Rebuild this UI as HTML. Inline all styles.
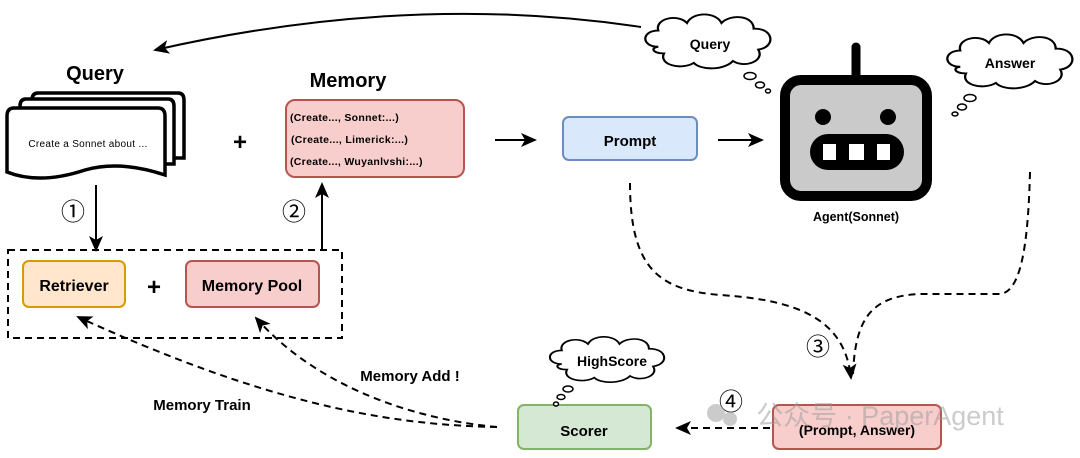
<!DOCTYPE html>
<html><head><meta charset="utf-8"><style>
html,body{margin:0;padding:0;background:#fff;width:1080px;height:458px;overflow:hidden}
text{font-family:"Liberation Sans","Noto Sans CJK SC",sans-serif;font-weight:bold;fill:#000}
text.n{font-weight:normal}
</style></head><body>
<svg width="1080" height="458" viewBox="0 0 1080 458" xmlns="http://www.w3.org/2000/svg">
<defs>
<marker id="ah" markerWidth="16" markerHeight="14" refX="14" refY="7" orient="auto" markerUnits="userSpaceOnUse">
<path d="M0,0 L16,7 L0,14 L4,7 Z" fill="#000"/></marker>
<g id="cloud"><path d="M-45,5 C-60,5 -60,-12 -45,-12 C-48,-25 -28,-30 -20,-20 C-15,-32 5,-32 10,-20 C18,-30 38,-28 38,-14 C55,-15 58,5 42,8 C48,20 30,28 20,20 C12,30 -8,30 -14,22 C-25,30 -45,24 -40,12 C-50,12 -52,6 -45,5 Z" fill="#fff" stroke="#000" stroke-width="2"/></g>
</defs>

<path d="M641,27 Q410,-8 155,50" fill="none" stroke="#000" stroke-width="2" marker-end="url(#ah)"/>

<text x="95" y="80" font-size="20" text-anchor="middle">Query</text>
<g fill="#fff" stroke="#000" stroke-width="3.5">
<path d="M32,100 Q32,93 38,93 L178,93 Q184,93 184,100 L184,158 L32,158 Z"/>
<path d="M20,106 Q20,99 26,99 L168,99 Q174,99 174,106 L174,164 L20,164 Z"/>
<path d="M7,116 Q7,108 14,108 L158,108 Q165,108 165,116 L165,175 Q120,160 85,170 Q40,185 7,172 Z"/>
</g>
<text x="88" y="147" font-size="10" text-anchor="middle" class="n" letter-spacing="0.3">Create a Sonnet about ...</text>

<text x="240" y="150" font-size="24" text-anchor="middle">+</text>

<text x="348" y="87" font-size="20" text-anchor="middle">Memory</text>
<rect x="286" y="100" width="178" height="77" rx="9" fill="#f8cecc" stroke="#b85450" stroke-width="2"/>
<text x="290" y="121" font-size="10.5" letter-spacing="0.3">(Create..., Sonnet:...)</text>
<text x="291" y="143" font-size="10.5" letter-spacing="0.3">(Create..., Limerick:...)</text>
<text x="290" y="165" font-size="10.5" letter-spacing="0.3">(Create..., Wuyanlvshi:...)</text>

<line x1="495" y1="140" x2="535" y2="140" stroke="#000" stroke-width="2" marker-end="url(#ah)"/>
<rect x="563" y="117" width="134" height="43" rx="6" fill="#dae8fc" stroke="#6c8ebf" stroke-width="2"/>
<text x="630" y="146" font-size="15" text-anchor="middle">Prompt</text>
<line x1="718" y1="140" x2="762" y2="140" stroke="#000" stroke-width="2" marker-end="url(#ah)"/>

<line x1="856" y1="47" x2="856" y2="78" stroke="#000" stroke-width="9" stroke-linecap="round"/>
<rect x="785" y="80" width="142" height="116" rx="16" fill="#cacaca" stroke="#000" stroke-width="10"/>
<circle cx="823" cy="117" r="8"/><circle cx="888" cy="117" r="8"/>
<rect x="810" y="134" width="94" height="36" rx="18" fill="#000"/>
<rect x="823" y="144" width="13" height="16" fill="#fff"/>
<rect x="849" y="144" width="15" height="16" fill="#fff"/>
<rect x="877" y="144" width="13" height="16" fill="#fff"/>
<text x="856" y="221" font-size="12.5" text-anchor="middle">Agent(Sonnet)</text>

<use href="#cloud" transform="translate(710,42) scale(1.15,0.95)"/>
<text x="710" y="49" font-size="14" text-anchor="middle">Query</text>
<ellipse cx="750" cy="76" rx="6" ry="3.5" fill="#fff" stroke="#000" stroke-width="1.5"/>
<ellipse cx="760" cy="85" rx="4.5" ry="3" fill="#fff" stroke="#000" stroke-width="1.5"/>
<ellipse cx="768" cy="91" rx="2.5" ry="2" fill="#fff" stroke="#000" stroke-width="1.5"/>
<use href="#cloud" transform="translate(1012,62) scale(1.15,0.95)"/>
<text x="1010" y="68" font-size="14" text-anchor="middle">Answer</text>
<ellipse cx="970" cy="98" rx="6" ry="3.5" fill="#fff" stroke="#000" stroke-width="1.5"/>
<ellipse cx="962" cy="107" rx="4.5" ry="3" fill="#fff" stroke="#000" stroke-width="1.5"/>
<ellipse cx="955" cy="114" rx="3" ry="2" fill="#fff" stroke="#000" stroke-width="1.5"/>

<line x1="96" y1="185" x2="96" y2="250" stroke="#000" stroke-width="2" marker-end="url(#ah)"/>
<text x="73" y="220" font-size="24" text-anchor="middle" class="n">①</text>
<text x="294" y="220" font-size="24" text-anchor="middle" class="n">②</text>
<path d="M322,250 L322,184" fill="none" stroke="#000" stroke-width="2" marker-end="url(#ah)"/>

<rect x="8" y="250" width="334" height="88" fill="none" stroke="#000" stroke-width="2" stroke-dasharray="7,5"/>
<rect x="23" y="261" width="102" height="46" rx="6" fill="#ffe6cc" stroke="#d79b00" stroke-width="2"/>
<text x="74" y="291" font-size="16" text-anchor="middle">Retriever</text>
<text x="154" y="295" font-size="24" text-anchor="middle">+</text>
<rect x="186" y="261" width="133" height="46" rx="6" fill="#f8cecc" stroke="#b85450" stroke-width="2"/>
<text x="252" y="291" font-size="16" text-anchor="middle">Memory Pool</text>

<path d="M630,183 C630,270 660,290 720,295 C800,300 845,320 851,378" fill="none" stroke="#000" stroke-width="2" stroke-dasharray="7,5" marker-end="url(#ah)"/>
<path d="M1030,172 C1028,250 1020,292 1000,294 L920,294 C870,296 855,320 853,375" fill="none" stroke="#000" stroke-width="2" stroke-dasharray="7,5"/>
<text x="818" y="355" font-size="24" text-anchor="middle" class="n">③</text>

<rect x="773" y="405" width="168" height="44" rx="6" fill="#f8cecc" stroke="#b85450" stroke-width="2"/>
<text x="857" y="435" font-size="14" text-anchor="middle">(Prompt, Answer)</text>
<line x1="770" y1="428" x2="677" y2="428" stroke="#000" stroke-width="2" stroke-dasharray="7,5" marker-end="url(#ah)"/>
<text x="731" y="410" font-size="24" text-anchor="middle" class="n">④</text>

<rect x="518" y="405" width="133" height="44" rx="6" fill="#d5e8d4" stroke="#82b366" stroke-width="2"/>
<text x="584" y="436" font-size="15" text-anchor="middle">Scorer</text>
<use href="#cloud" transform="translate(609,360) scale(1.05,0.8)"/>
<text x="612" y="366" font-size="14" text-anchor="middle">HighScore</text>
<ellipse cx="568" cy="389" rx="5" ry="3" fill="#fff" stroke="#000" stroke-width="1.5"/>
<ellipse cx="561" cy="397" rx="4" ry="2.5" fill="#fff" stroke="#000" stroke-width="1.5"/>
<ellipse cx="556" cy="404" rx="2.5" ry="2" fill="#fff" stroke="#000" stroke-width="1.5"/>

<path d="M497,427 C380,425 260,400 78,317" fill="none" stroke="#000" stroke-width="2" stroke-dasharray="7,5" marker-end="url(#ah)"/>
<path d="M497,427 C420,420 320,390 256,318" fill="none" stroke="#000" stroke-width="2" stroke-dasharray="7,5" marker-end="url(#ah)"/>
<text x="410" y="381" font-size="15" text-anchor="middle">Memory Add !</text>
<text x="202" y="410" font-size="15" text-anchor="middle">Memory Train</text>

<g opacity="0.5">
<circle cx="716" cy="413" r="9" fill="#999"/><circle cx="730" cy="419" r="7" fill="#999"/>
<text x="880" y="425" font-size="27" text-anchor="middle" class="n" style="fill:#999">公众号 · PaperAgent</text>
</g>
</svg>
</body></html>
